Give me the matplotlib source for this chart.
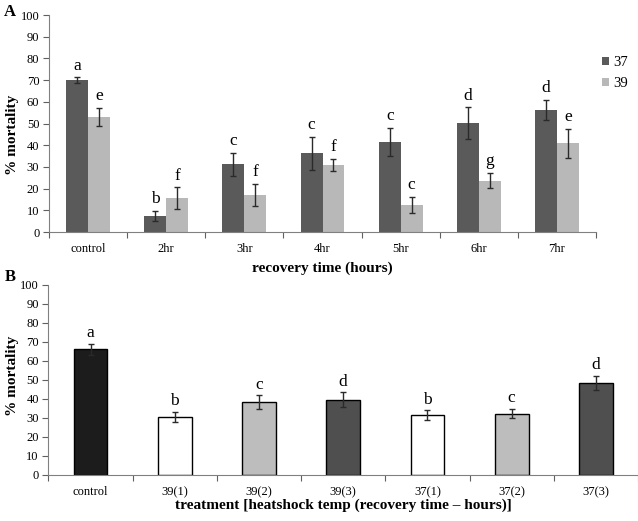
import matplotlib.pyplot as plt

plt.rcParams['font.family'] = ['Liberation Serif', 'DejaVu Serif']

# panel A data
times = ['control', '2hr', '3hr', '4hr', '5hr', '6hr', '7hr']
m37 = [70, 7.5, 31.3, 36.3, 41.5, 50.2, 56.4]
e37 = [1.2, 2.2, 5.3, 7.7, 6.5, 7.2, 4.6]
m39 = [53, 15.5, 17.2, 30.8, 12.6, 23.7, 40.8]
e39 = [4.2, 5.1, 5.1, 2.8, 3.7, 3.6, 6.8]
let37 = ['a', 'b', 'c', 'c', 'c', 'd', 'd']
let39 = ['e', 'f', 'f', 'f', 'c', 'g', 'e']

# panel B data
treats = ['control', '39(1)', '39(2)', '39(3)', '37(1)', '37(2)', '37(3)']
mB = [66.3, 30.5, 38.4, 39.7, 31.4, 32.3, 48.4]
eB = [2.9, 2.8, 3.5, 3.9, 2.7, 2.5, 3.8]
letB = ['a', 'b', 'c', 'd', 'b', 'c', 'd']
colB = ['#1c1c1c', 'white', '#bdbdbd', '#4f4f4f', 'white', '#bdbdbd', '#4f4f4f']

fig = plt.figure(figsize=(6.38, 5.21), dpi=100)

def style(ax):
    ax.spines['top'].set_visible(False)
    ax.spines['right'].set_visible(False)
    ax.spines['left'].set_color('#808080')
    ax.spines['bottom'].set_color('#808080')
    ax.set_ylim(0, 100)
    ax.set_yticks(range(0, 101, 10))
    ax.set_xlim(-0.5, 6.5)
    ax.set_xticks([k - 0.5 for k in range(8)])
    ax.set_xticklabels([])
    ax.tick_params(axis='both', which='major', length=4, color='#606060',
                   labelsize=9, pad=3)
    ax.tick_params(axis='x', which='minor', length=0, labelsize=9, pad=8)
    ax.set_ylabel('% mortality', fontsize=11, fontweight='bold')

# --- A ---
axA = fig.add_axes([0.0768, 0.5547, 0.8574, 0.4165])
style(axA)
xs = list(range(len(times)))
w = 0.28
ek = dict(ecolor='#2a2a2a', elinewidth=1, capsize=2.2, capthick=1)
axA.bar([x - w/2 for x in xs], m37, w, color='#5a5a5a', yerr=e37,
        error_kw=ek, label='37')
axA.bar([x + w/2 for x in xs], m39, w, color='#b8b8b8', yerr=e39,
        error_kw=ek, label='39')
for x, v, e, t in zip(xs, m37, e37, let37):
    axA.text(x - w/2, v + e + 3.5, t, ha='center', va='baseline', fontsize=12.5)
for x, v, e, t in zip(xs, m39, e39, let39):
    axA.text(x + w/2, v + e + 3.5, t, ha='center', va='baseline', fontsize=12.5)
axA.set_xticks(xs, times, minor=True)
axA.set_xlabel('recovery time (hours)', fontsize=11, fontweight='bold')
axA.xaxis.set_label_coords(0.5, -0.134)
axA.yaxis.set_label_coords(-0.054, 0.447)
fig.legend(loc='center left', bbox_to_anchor=(0.932, 0.86), frameon=False,
           fontsize=10.5, handlelength=0.5, handleheight=0.5,
           handletextpad=0.3, borderpad=0, labelspacing=0.55)
fig.text(0.016, 0.977, 'A', fontsize=12, fontweight='bold', ha='center', va='center')

# --- B ---
axB = fig.add_axes([0.076, 0.0883, 0.924, 0.3647])
style(axB)
axB.bar(xs, mB, 0.4, color=colB, edgecolor='black', linewidth=1,
        yerr=eB, error_kw=ek)
for x, v, e, t in zip(xs, mB, eB, letB):
    axB.text(x, v + e + 3.5, t, ha='center', va='baseline', fontsize=12.5)
axB.set_xticks(xs, treats, minor=True)
axB.set_xlabel('treatment [heatshock temp (recovery time \u2013 hours)]',
               fontsize=11, fontweight='bold')
axB.xaxis.set_label_coords(0.5, -0.126)
axB.yaxis.set_label_coords(-0.05, 0.52)
fig.text(0.016, 0.469, 'B', fontsize=12, fontweight='bold', ha='center', va='center')

fig.savefig('out.png', dpi=100)
